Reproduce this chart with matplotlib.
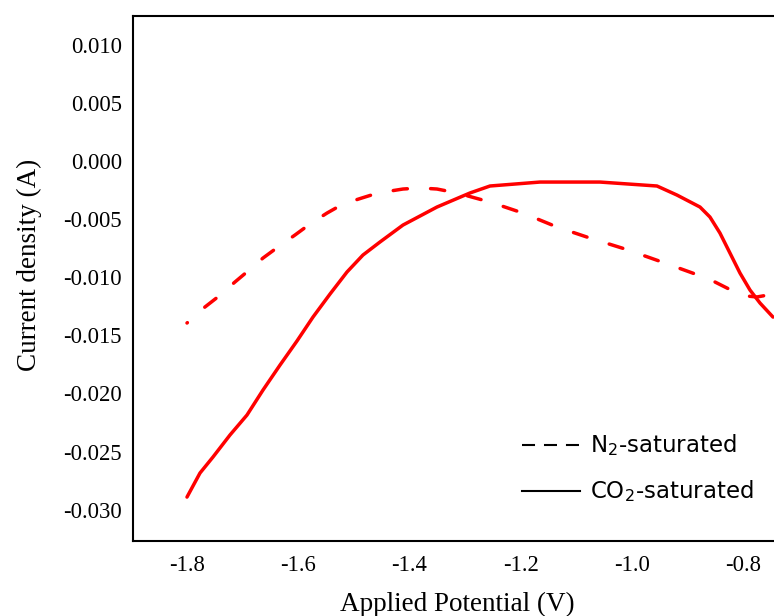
import numpy as np
import matplotlib
matplotlib.use("Agg")
import matplotlib.pyplot as plt

# N2-saturated (dashed)
v_n2 = [-1.8000, -1.7676, -1.7424, -1.7137, -1.6903, -1.6633, -1.6363, -1.6058,
        -1.5788, -1.5482, -1.5194, -1.4853, -1.4565, -1.4115, -1.3809, -1.3504,
        -1.3144, -1.2550, -1.1957, -1.1345, -1.0752, -1.0122, -0.9457, -0.8809,
        -0.8504, -0.8180, -0.7928, -0.7748, -0.7550, -0.7460]
j_n2 = [-0.01394, -0.01256, -0.01162, -0.01041, -0.00947, -0.00835, -0.00740,
        -0.00637, -0.00542, -0.00448, -0.00370, -0.00318, -0.00275, -0.00241,
        -0.00232, -0.00241, -0.00275, -0.00353, -0.00448, -0.00568, -0.00663,
        -0.00757, -0.00869, -0.00981, -0.01041, -0.01119, -0.01162, -0.01170,
        -0.01153, -0.01136]

# CO2-saturated (solid)
v_co2 = [-1.8000, -1.7766, -1.7532, -1.7227, -1.6921, -1.6633, -1.6327, -1.6022,
         -1.5734, -1.5428, -1.5122, -1.4835, -1.4529, -1.4115, -1.3504, -1.2910,
         -1.2550, -1.1651, -1.0572, -0.9547, -0.9187, -0.8773, -0.8594, -0.8414,
         -0.8234, -0.8054, -0.7874, -0.7694, -0.7460]
j_co2 = [-0.02892, -0.02685, -0.02547, -0.02358, -0.02186, -0.01971, -0.01756,
         -0.01549, -0.01343, -0.01145, -0.00955, -0.00809, -0.00697, -0.00551,
         -0.00396, -0.00275, -0.00215, -0.00181, -0.00181, -0.00215, -0.00293,
         -0.00396, -0.00482, -0.00620, -0.00792, -0.00964, -0.01110, -0.01222,
         -0.01343]

xticks = [-1.8, -1.6, -1.4, -1.2, -1.0, -0.8]
yticks = [0.010, 0.005, 0.000, -0.005, -0.010, -0.015, -0.020, -0.025, -0.030]
legend_labels = [r"N$_2$-saturated", r"CO$_2$-saturated"]

fig = plt.figure(figsize=(7.74, 6.16), dpi=100)
ax = fig.add_axes([133 / 774, 1 - 541 / 616, 641 / 774, 525 / 616])

# dashed curve starts with a dot, like the original
ax.plot(v_n2, j_n2, color="#ff0000", lw=2.5, ls=(3.95, (4.1, 6.7)),
        solid_joinstyle="round", dash_capstyle="round")
ax.plot(v_co2, j_co2, color="#ff0000", lw=2.5, solid_joinstyle="round",
        solid_capstyle="round")

ax.set_xlim(-1.8971, -0.7442)
ax.set_ylim(-0.0327, 0.01248)
ax.set_xticks(xticks)
ax.set_xticklabels([f"{t:.1f}" for t in xticks])
ax.set_yticks(yticks)
ax.set_yticklabels([f"{t:.3f}" if t != 0 else "0.000" for t in yticks])
ax.tick_params(length=0, labelsize=16.3, pad=8)
ax.tick_params(axis="x", pad=10)
for lab in ax.get_xticklabels() + ax.get_yticklabels():
    lab.set_family("Liberation Serif")

ax.spines["right"].set_visible(False)
for s in ["left", "top", "bottom"]:
    ax.spines[s].set_linewidth(1.5)

ax.set_xlabel("Applied Potential (V)", family="Liberation Serif", fontsize=19.5)
ax.set_ylabel("Current density (A)", family="Liberation Serif", fontsize=19.5)
ax.xaxis.set_label_coords(0.506, -0.097)
ax.yaxis.set_label_coords(-0.142, 0.526)

# legend drawn as black lines and text
lx0, lx1 = 522, 580
styles = [(0, (6.25, 4.3)), "-"]
for row, (style, label) in enumerate(zip(styles, legend_labels)):
    yy = 1 - (445 + row * 46) / 616
    fig.add_artist(plt.Line2D([lx0 / 774, lx1 / 774], [yy, yy], color="black",
                              lw=1.5, ls=style, transform=fig.transFigure))
    fig.text(590 / 774, yy, label, fontsize=16.5, family="DejaVu Sans",
             va="center", ha="left")

fig.savefig("out.png", dpi=100)
